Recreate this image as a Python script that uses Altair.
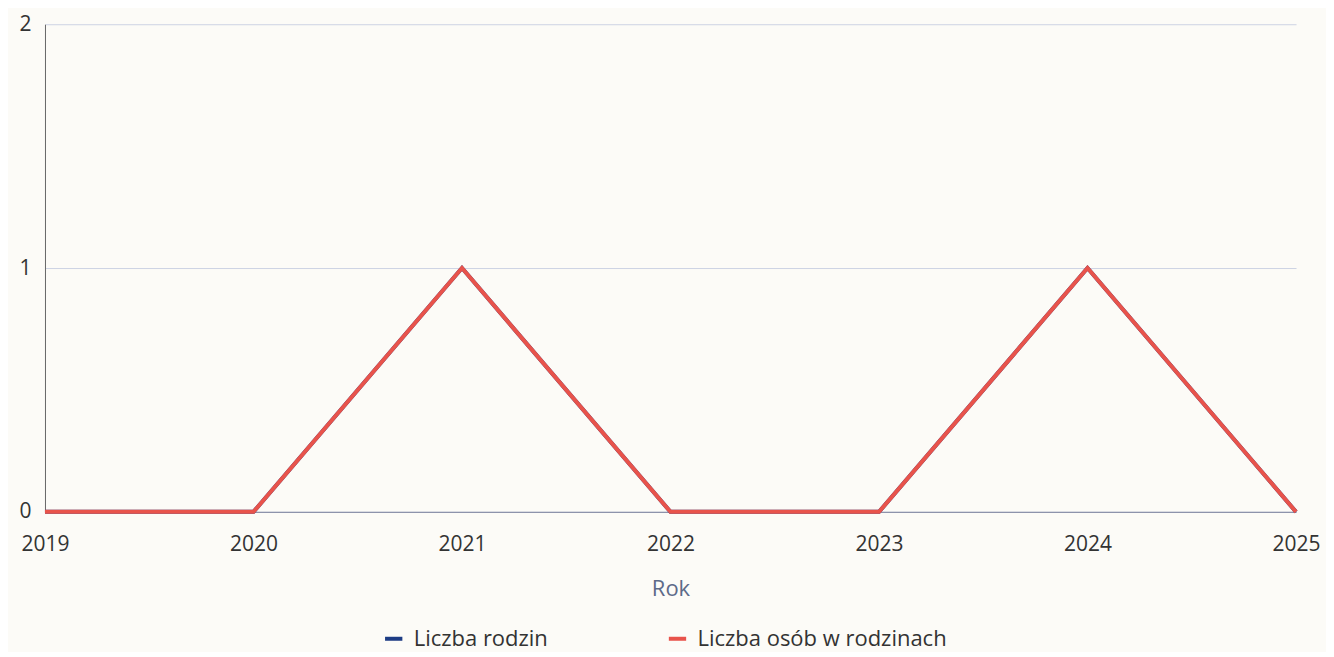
import altair as alt
import pandas as pd

years = ["2019", "2020", "2021", "2022", "2023", "2024", "2025"]
liczba_rodzin = [0, 0, 1, 0, 0, 1, 0]
liczba_osob = [0, 0, 1, 0, 0, 1, 0]
series_names = ["Liczba rodzin", "Liczba osób w rodzinach"]
series_colors = ["#1d3c84", "#e8534b"]

rows = []
for name, vals in zip(series_names, [liczba_rodzin, liczba_osob]):
    for y, v in zip(years, vals):
        rows.append({"Rok": y, "Seria": name, "Wartość": v})
df = pd.DataFrame(rows)

FONT = "Open Sans"

chart = alt.Chart(df).mark_line(strokeWidth=4).encode(
    x=alt.X("Rok:O", sort=years,
            scale=alt.Scale(type="point", padding=0),
            axis=alt.Axis(title="Rok", labelAngle=0, labelFontSize=21, labelColor="#333333",
                          labelPadding=22, ticks=False, domainColor="#8d93ab", domainWidth=1.2,
                          titleFontSize=22, titleColor="#5d6a88", titleFontWeight="normal",
                          titlePadding=24, labelFont=FONT, titleFont=FONT, grid=False)),
    y=alt.Y("Wartość:Q", scale=alt.Scale(domain=[0, 2], nice=False, zero=True),
            axis=alt.Axis(title=None, tickCount=2, labelFontSize=21, labelColor="#333333",
                          labelPadding=14, ticks=False, domainColor="#666666", domainWidth=1,
                          labelOverlap=False,
                          gridColor="#cdd3e4", gridWidth=1, labelFont=FONT, format="d")),
    color=alt.Color("Seria:N", sort=series_names,
                    scale=alt.Scale(domain=series_names, range=series_colors),
                    legend=alt.Legend(title=None, orient="none", legendX=338, legendY=604,
                                      direction="horizontal", columns=2, columnPadding=112,
                                      symbolType="stroke", symbolStrokeWidth=4, symbolSize=300,
                                      labelFontSize=22, labelColor="#333333", labelFont=FONT,
                                      labelOffset=9,
                                      labelLimit=400, symbolOffset=0)),
    order=alt.Order("Seria:N", sort="ascending"),
).properties(
    width=1252, height=488,
    autosize=alt.AutoSizeParams(type="none"),
    padding={"left": 37, "top": 16, "right": 30, "bottom": 140},
    background="#fcfbf7",
).configure_view(stroke=None)

chart.save("out.html", embed_options={"renderer": "svg", "actions": False})
